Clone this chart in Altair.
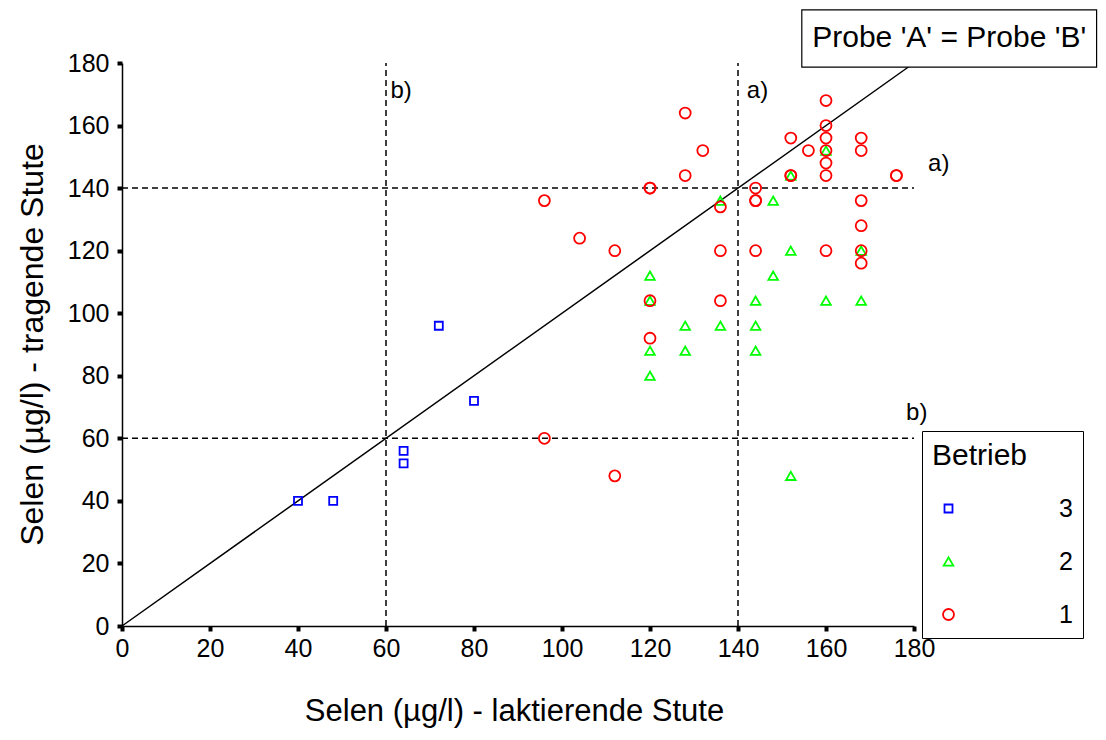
import altair as alt
import pandas as pd

# Betrieb 3 (blue squares)
b3_x = [40, 48, 64, 64, 72, 80]
b3_y = [40, 40, 56, 52, 96, 72]
# Betrieb 2 (green triangles)
b2_x = [136, 148, 152, 160, 120, 148, 152, 168, 120, 144, 160, 168, 128, 136, 144, 120, 128, 144, 120, 152]
b2_y = [136, 136, 144, 152, 112, 112, 120, 120, 104, 104, 104, 104, 96, 96, 96, 88, 88, 88, 80, 48]
# Betrieb 1 (red circles)
b1_x = [96, 112, 96, 104, 112, 120, 120, 120, 120, 128, 132, 128, 136, 136, 136, 144, 144, 144, 144,
        152, 152, 152, 156, 160, 160, 160, 160, 160, 160, 160, 168, 168, 168, 168, 168, 168, 176, 176]
b1_y = [60, 48, 136, 124, 120, 140, 140, 104, 92, 164, 152, 144, 134, 120, 104, 140, 136, 136, 120,
        156, 144, 144, 152, 168, 160, 156, 152, 148, 144, 120, 156, 152, 136, 128, 120, 116, 144, 144]

groups = ["3", "2", "1"]
colors = ["#0000FF", "#00FF00", "#FF0000"]
shapes = ["square", "triangle-up", "circle"]
sizes = [64, 120, 180]

tick_vals = [0, 20, 40, 60, 80, 100, 120, 140, 160, 180]

pts = pd.DataFrame({
    "x": b3_x + b2_x + b1_x,
    "y": b3_y + b2_y + b1_y,
    "Betrieb": ["3"] * len(b3_x) + ["2"] * len(b2_x) + ["1"] * len(b1_x),
})

FONT = "Liberation Sans"
xs = alt.Scale(domain=[0, 180], nice=False, zero=False)
ys = alt.Scale(domain=[0, 180], nice=False, zero=False)

leg = alt.Legend(
    orient="none", legendX=800, legendY=368, title="Betrieb",
    titleFont=FONT, titleFontSize=30, titleFontWeight="normal", titleColor="black",
    titlePadding=25,
    labelFont=FONT, labelFontSize=25, labelColor="black", labelOffset=98,
    labelExpr="datum.label + '     '",
    strokeColor="black", fillColor="white", padding=10, rowPadding=27,
    symbolOffset=4, symbolStrokeWidth=1.8,
)

xaxis = alt.Axis(title="Selen (µg/l) - laktierende Stute", values=tick_vals, grid=False,
                 titleX=392, titleY=94, titleBaseline="alphabetic", titleAlign="center",
                 titleFontSize=31, labelPadding=5, labelFlush=False)
yaxis = alt.Axis(title="Selen (µg/l) - tragende Stute", values=tick_vals, grid=False,
                 titleX=-90, titleY=281, titleAngle=-90, titleBaseline="middle", titleAlign="center",
                 labelPadding=8, labelFlush=False)

points = alt.Chart(pts).mark_point(filled=False, strokeWidth=1.8, opacity=1).encode(
    x=alt.X("x:Q", scale=xs, axis=xaxis),
    y=alt.Y("y:Q", scale=ys, axis=yaxis),
    color=alt.Color("Betrieb:N", scale=alt.Scale(domain=groups, range=colors), legend=leg),
    shape=alt.Shape("Betrieb:N", scale=alt.Scale(domain=groups, range=shapes), legend=leg),
    size=alt.Size("Betrieb:N", scale=alt.Scale(domain=groups, range=sizes), legend=leg),
)

diag_df = pd.DataFrame({"x": [0], "y": [0], "x2": [180], "y2": [180]})
diag = alt.Chart(diag_df).mark_rule(color="black", strokeWidth=1.5).encode(
    x=alt.X("x:Q", scale=xs), y=alt.Y("y:Q", scale=ys), x2="x2:Q", y2="y2:Q")

h_df = pd.DataFrame({"y": [140, 60], "x": [0, 0], "x2": [180, 180]})
hlines = alt.Chart(h_df).mark_rule(color="black", strokeWidth=1.5, strokeDash=[6, 4]).encode(
    x=alt.X("x:Q", scale=xs), x2="x2:Q", y=alt.Y("y:Q", scale=ys))

v_df = pd.DataFrame({"x": [60, 140], "y": [0, 0], "y2": [180, 180]})
vlines = alt.Chart(v_df).mark_rule(color="black", strokeWidth=1.5, strokeDash=[6, 4]).encode(
    x=alt.X("x:Q", scale=xs), y=alt.Y("y:Q", scale=ys), y2="y2:Q")

lab_df = pd.DataFrame({"x": [61, 142, 183.2, 178.2], "y": [168.8, 168.8, 145.5, 65.9],
                       "t": ["b)", "a)", "a)", "b)"]})
labels = alt.Chart(lab_df).mark_text(font=FONT, fontSize=24, align="left", baseline="alphabetic",
                                     color="black").encode(
    x=alt.X("x:Q", scale=xs), y=alt.Y("y:Q", scale=ys), text="t:N")

box_df = pd.DataFrame({"x": [154.5], "x2": [221.5], "y": [178.7], "y2": [197.0]})
box = alt.Chart(box_df).mark_rect(fill="white", stroke="black", strokeWidth=1.2).encode(
    x=alt.X("x:Q", scale=xs), x2="x2:Q", y=alt.Y("y:Q", scale=ys), y2="y2:Q")

box_t = pd.DataFrame({"x": [188.0], "y": [187.9], "t": ["Probe 'A' = Probe 'B'"]})
box_text = alt.Chart(box_t).mark_text(font=FONT, fontSize=30, align="center", baseline="middle",
                                      color="black").encode(
    x=alt.X("x:Q", scale=xs), y=alt.Y("y:Q", scale=ys), text="t:N")

chart = alt.layer(hlines, vlines, diag, points, labels, box, box_text).properties(
    width=792, height=563,
    autosize=alt.AutoSizeParams(type="none"),
    padding={"left": 114, "top": 55, "right": 184, "bottom": 105},
).configure_view(stroke=None).configure_axis(
    domainColor="black", domainWidth=1.5, tickColor="black", tickWidth=4, tickSize=5,
    labelFont=FONT, labelFontSize=25, labelColor="black",
    titleFont=FONT, titleFontSize=32, titleFontWeight="normal", titleColor="black",
)

chart.save("out.html", embed_options={"renderer": "svg", "actions": False})
